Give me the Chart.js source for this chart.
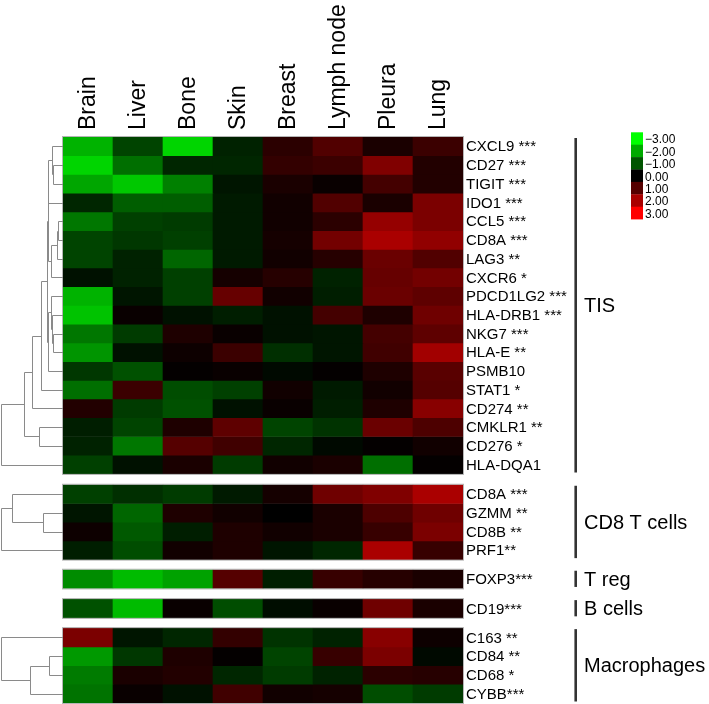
<!DOCTYPE html>
<html>
<head>
<meta charset="utf-8">
<script src="https://cdn.jsdelivr.net/npm/chart.js@4"></script>
<style>
  body { margin: 0; background: #fff; }
  canvas { display: block; }
</style>
</head>
<body>
<canvas id="heatmap" width="709" height="704"></canvas>
<script>
// columns (metastatic sites)
const columns = ['Brain', 'Liver', 'Bone', 'Skin', 'Breast', 'Lymph node', 'Pleura', 'Lung'];

// TIS genes
const tisGenes = ['CXCL9 ***', 'CD27 ***', 'TIGIT ***', 'IDO1 ***', 'CCL5 ***', 'CD8A ***', 'LAG3 **',
    'CXCR6 *', 'PDCD1LG2 ***', 'HLA-DRB1 ***', 'NKG7 ***', 'HLA-E **', 'PSMB10', 'STAT1 *',
    'CD274 **', 'CMKLR1 **', 'CD276 *', 'HLA-DQA1'];
const tisValues = [
    [-2.1, -0.8, -2.5, -0.4, 0.5, 0.95, 0.3, 0.7],
    [-2.5, -1.3, -0.45, -0.45, 0.6, 0.7, 1.5, 0.4],
    [-1.95, -2.35, -1.5, -0.25, 0.3, 0.1, 0.8, 0.4],
    [-0.45, -1.1, -1.1, -0.3, 0.2, 0.95, 0.3, 1.45],
    [-1.4, -0.75, -0.7, -0.3, 0.2, 0.5, 1.75, 1.45],
    [-0.8, -0.65, -0.75, -0.3, 0.25, 1.35, 2.0, 1.7],
    [-0.8, -0.4, -1.2, -0.3, 0.2, 0.45, 1.25, 0.95],
    [-0.2, -0.4, -0.75, 0.25, 0.45, -0.4, 1.2, 1.35],
    [-2.1, -0.25, -0.75, 1.2, 0.2, -0.35, 1.25, 1.1],
    [-2.3, 0.1, -0.2, -0.35, -0.2, 0.8, 0.35, 1.3],
    [-1.4, -0.7, 0.35, 0.1, -0.2, -0.25, 0.8, 1.1],
    [-1.75, -0.2, 0.15, 0.7, -0.55, -0.25, 0.75, 1.9],
    [-0.65, -0.95, 0.05, 0.1, -0.1, 0.05, 0.35, 1.05],
    [-1.3, 0.7, -0.9, -0.75, 0.2, -0.3, 0.2, 1.0],
    [0.4, -0.7, -0.95, -0.2, 0.1, -0.35, 0.35, 1.6],
    [-0.35, -0.8, 0.35, 1.1, -0.8, -0.6, 1.25, 0.9],
    [-0.4, -1.4, 1.0, 0.75, -0.45, -0.1, 0.05, 0.2],
    [-0.75, -0.2, 0.3, -0.7, 0.2, 0.3, -1.3, 0.05]
];

const cd8Genes = ['CD8A ***', 'GZMM **', 'CD8B **', 'PRF1**'];
const cd8Values = [
    [-0.75, -0.55, -0.7, -0.3, 0.25, 1.3, 1.5, 2.0],
    [-0.25, -1.2, 0.35, 0.2, 0.0, 0.3, 0.9, 1.3],
    [0.15, -1.05, -0.35, 0.35, 0.2, 0.3, 0.65, 1.45],
    [-0.35, -0.9, 0.2, 0.35, -0.25, -0.45, 2.0, 0.65]
];

const tregGenes = ['FOXP3***'];
const tregValues = [[-1.65, -2.2, -1.9, 1.0, -0.35, 0.65, 0.45, 0.3]];

const bcellGenes = ['CD19***'];
const bcellValues = [[-0.95, -2.2, 0.1, -0.9, -0.15, 0.1, 1.3, 0.3]];

const macroGenes = ['C163 **', 'CD84 **', 'CD68 *', 'CYBB***'];
const macroValues = [
    [1.45, -0.25, -0.45, 0.6, -0.6, -0.4, 1.6, 0.15],
    [-1.8, -0.65, 0.35, 0.05, -0.8, 0.65, 1.45, -0.1],
    [-1.45, 0.3, 0.4, -0.45, -0.7, -0.4, 0.5, 0.45],
    [-1.35, 0.1, -0.2, 0.75, 0.2, 0.25, -0.9, -0.7]
];

// dendrograms: [left, right, height], leaves = row index in the group
const tisA = [[0, [1, 2, 9.7], 10.7], 3, 14.7];
const tisB = [[[4, 5, 4.7], 6, 5.7], 7, 12.3];
const tisC = [[8, [9, [10, 11, 9.7], 11.3], 12.3], 12, 14.7];
const tisTree = [[[[[[tisA, tisB, 15.5], tisC, 16], 13, 22.3], 14, 30.7], [15, 16, 24], 39], 17, 62.5];
const cd8Tree = [[0, [1, 2, 19.7], 51.3], 3, 62.3];
const macroTree = [0, [[1, 2, 13.7], 3, 33], 62.3];

// colour key
const legendValues = [-3, -2, -1, 0, 1, 2, 3];

// layout (row units)
const groupStarts = [0, 18.58, 23.12, 24.69, 26.24];
const yMax = 30.24;

const groups = [
    { name: 'TIS', genes: tisGenes, values: tisValues, tree: tisTree },
    { name: 'CD8 T cells', genes: cd8Genes, values: cd8Values, tree: cd8Tree },
    { name: 'T reg', genes: tregGenes, values: tregValues, tree: null },
    { name: 'B cells', genes: bcellGenes, values: bcellValues, tree: null },
    { name: 'Macrophages', genes: macroGenes, values: macroValues, tree: macroTree }
];

function heatColor(v) {
    const c = Math.round(Math.min(255, Math.abs(v) * 85));
    return v < 0 ? `rgb(0,${c},0)` : `rgb(${c},0,0)`;
}

function fmt(v) {
    return (v < 0 ? '\u2212' : '') + Math.abs(v).toFixed(2);
}

const FONT = '"Liberation Sans", Arial, Helvetica, sans-serif';

const datasets = [];
groups.forEach((g, gi) => {
    g.values.forEach((row, r) => {
        const y0 = groupStarts[gi] + r;
        datasets.push({
            data: row.map(() => [y0, y0 + 1]),
            backgroundColor: row.map(heatColor),
            borderWidth: 0,
            grouped: false,
            barPercentage: 1,
            categoryPercentage: 1
        });
    });
});

const decorations = {
    id: 'decorations',
    afterDraw(chart) {
        const ctx = chart.ctx;
        const xs = chart.scales.x;
        const ys = chart.scales.y;
        const area = chart.chartArea;

        ctx.save();

        // group outlines
        ctx.strokeStyle = '#b5b5b5';
        ctx.lineWidth = 1;
        groups.forEach((g, gi) => {
            const t = ys.getPixelForValue(groupStarts[gi]);
            const b = ys.getPixelForValue(groupStarts[gi] + g.values.length);
            ctx.strokeRect(area.left - 0.5, t - 0.5, area.right - area.left + 1, b - t + 1);
        });

        // column labels
        ctx.fillStyle = '#000';
        ctx.font = '23px ' + FONT;
        ctx.textAlign = 'left';
        ctx.textBaseline = 'alphabetic';
        columns.forEach((c, i) => {
            ctx.save();
            ctx.translate(xs.getPixelForValue(i) + 7, 130);
            ctx.rotate(-Math.PI / 2);
            ctx.fillText(c, 0, 0);
            ctx.restore();
        });

        // row labels, brackets, group names
        groups.forEach((g, gi) => {
            ctx.font = '15px ' + FONT;
            ctx.textBaseline = 'middle';
            ctx.fillStyle = '#000';
            g.genes.forEach((name, r) => {
                ctx.fillText(name, 466, ys.getPixelForValue(groupStarts[gi] + r + 0.5) + 1);
            });
            const t = ys.getPixelForValue(groupStarts[gi]);
            const b = ys.getPixelForValue(groupStarts[gi] + g.values.length);
            ctx.strokeStyle = '#333';
            ctx.lineWidth = 2.6;
            ctx.beginPath();
            ctx.moveTo(575.7, t + 1);
            ctx.lineTo(575.7, b - 1.5);
            ctx.stroke();
            ctx.font = '20px ' + FONT;
            ctx.fillText(g.name, 584, (t + b) / 2 + 1);
        });

        // dendrograms
        ctx.strokeStyle = '#8a8a8a';
        ctx.lineWidth = 1;
        const hScale = (area.left - 0.5) / 62.5;
        groups.forEach((g, gi) => {
            if (!g.tree) return;
            const walk = (node) => {
                if (typeof node === 'number') {
                    return { x: area.left, y: ys.getPixelForValue(groupStarts[gi] + node + 0.5) };
                }
                const a = walk(node[0]);
                const b = walk(node[1]);
                const nx = Math.round(area.left - node[2] * hScale) + 0.5;
                const ay = Math.round(a.y) + 0.5;
                const by = Math.round(b.y) + 0.5;
                ctx.beginPath();
                ctx.moveTo(a.x, ay);
                ctx.lineTo(nx, ay);
                ctx.lineTo(nx, by);
                ctx.lineTo(b.x, by);
                ctx.stroke();
                return { x: nx, y: (a.y + b.y) / 2 };
            };
            walk(g.tree);
        });

        // colour key
        const boxH = 12.4;
        ctx.font = '12px ' + FONT;
        ctx.textBaseline = 'middle';
        legendValues.forEach((v, i) => {
            const by = 132.3 + i * boxH;
            ctx.fillStyle = heatColor(v);
            ctx.fillRect(631, by, 12, boxH + 0.3);
            ctx.fillStyle = '#000';
            ctx.fillText(fmt(v), 645, by + boxH / 2 + 1.5);
        });

        ctx.restore();
    }
};

new Chart(document.getElementById('heatmap'), {
    type: 'bar',
    data: { labels: columns, datasets: datasets },
    options: {
        responsive: false,
        animation: false,
        layout: { padding: { left: 63, right: 246, top: 137, bottom: 1 } },
        plugins: { legend: { display: false }, tooltip: { enabled: false } },
        scales: {
            x: { display: false },
            y: { display: false, min: 0, max: yMax, reverse: true }
        }
    },
    plugins: [decorations]
});
</script>
</body>
</html>
